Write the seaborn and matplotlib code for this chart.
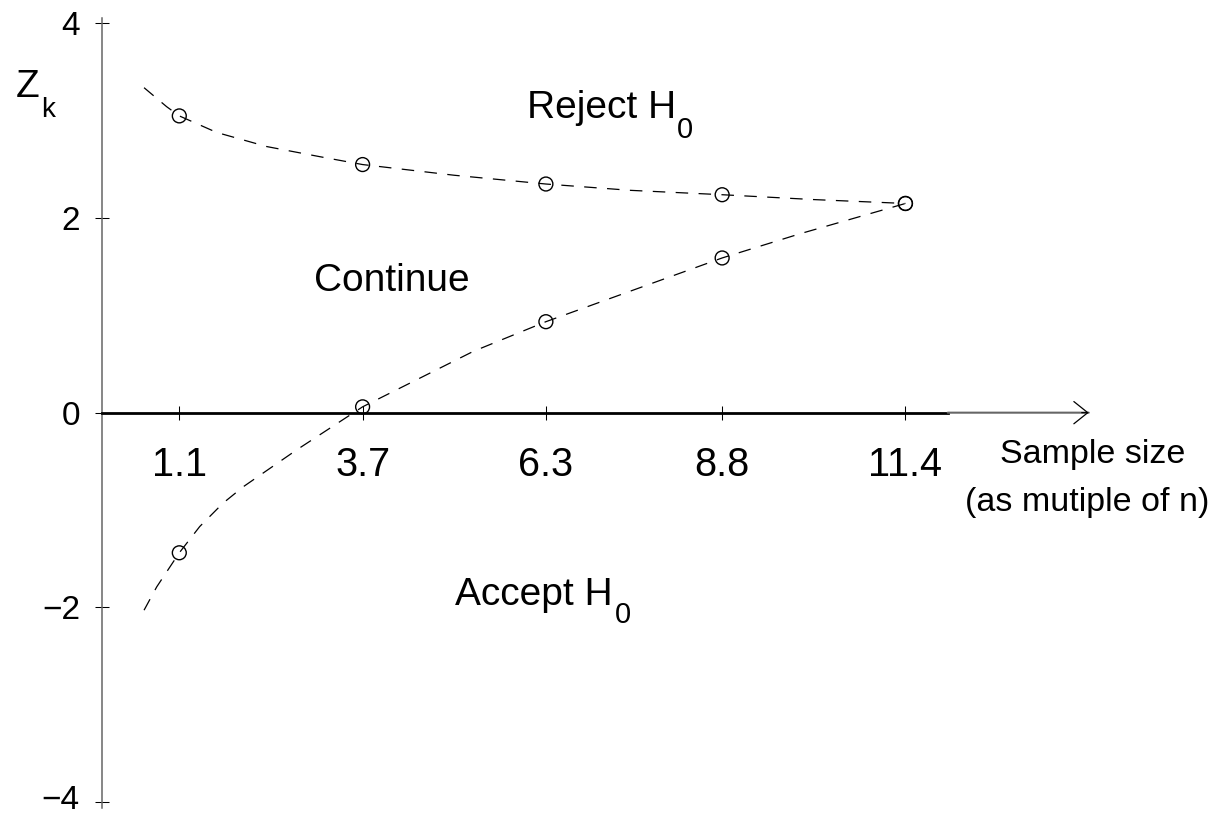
import matplotlib
matplotlib.use("Agg")
import matplotlib.pyplot as plt
import pandas as pd
import seaborn as sns

# boundary values at each interim analysis
looks = [1.1, 3.7, 6.3, 8.8, 11.4]
look_labels = ["1.1", "3.7", "6.3", "8.8", "11.4"]
upper_bound = [3.05, 2.55, 2.35, 2.24, 2.15]
lower_bound = [-1.44, 0.06, 0.935, 1.59, 2.15]

# dashed boundary curves
upper_curve_x = [0.6, 0.92, 1.1, 1.63, 2.34, 3.1, 3.7, 5.0, 6.3, 7.5, 8.8, 10.1, 11.4]
upper_curve_y = [3.34, 3.145, 3.05, 2.88, 2.735, 2.63, 2.55, 2.44, 2.35, 2.285, 2.24, 2.19, 2.15]
lower_curve_x = [0.6, 0.78, 1.1, 1.39, 1.72, 2.01, 2.77, 3.7, 5.27, 6.3, 7.54, 8.8, 9.91, 11.4]
lower_curve_y = [-2.03, -1.79, -1.44, -1.17, -0.93, -0.76, -0.38, 0.06, 0.63, 0.935, 1.26, 1.59, 1.84, 2.15]

y_ticks = [-4, -2, 0, 2, 4]

sns.set_style("white")
plt.rcParams['font.family'] = ['Liberation Sans', 'DejaVu Sans']
plt.rcParams['lines.scale_dashes'] = False
plt.rcParams['text.color'] = 'black'
plt.rcParams['xtick.color'] = 'black'
plt.rcParams['ytick.color'] = 'black'

W, H = 1222, 818
fig = plt.figure(figsize=(W / 100, H / 100), dpi=100)
# x: 0 at px 101.75, 70.5 px/unit ; y: 0 at px 412.7, 97.3 px/unit
ax = fig.add_axes([101.75 / W, 1 - 811.6 / H, 15.5 * 70.5 / W, 8.2 * 97.3 / H])
ax.set_xlim(0, 15.5)
ax.set_ylim(-4.1, 4.1)

curves = pd.DataFrame({
    'x': upper_curve_x + lower_curve_x,
    'y': upper_curve_y + lower_curve_y,
    'side': ['upper'] * len(upper_curve_x) + ['lower'] * len(lower_curve_x),
})
for side, grp in curves.groupby('side'):
    sns.lineplot(data=grp, x='x', y='y', ax=ax, color='black', lw=0.9,
                 linestyle=(0, (9, 7.5)), sort=False, estimator=None)

for vals in (upper_bound, lower_bound):
    sns.scatterplot(x=looks, y=vals, ax=ax, marker='o', s=100,
                    facecolor='none', edgecolor='black', linewidth=1.0, zorder=3)

# axes styling
ax.spines['top'].set_visible(False)
ax.spines['right'].set_visible(False)
ax.spines['left'].set_color('#666666')
ax.spines['left'].set_linewidth(1.1)
ax.spines['left'].set_bounds(-4.06, 4.06)
ax.spines['bottom'].set_position(('data', 0))
ax.spines['bottom'].set_color('black')
ax.spines['bottom'].set_linewidth(2.0)
ax.spines['bottom'].set_bounds(0, 12)

ax.annotate('', xy=(14, 0), xytext=(12, 0),
            arrowprops=dict(arrowstyle='-', color='#666666', lw=1.5,
                            shrinkA=0, shrinkB=0))
ax.annotate('', xy=(14, 0), xytext=(13.9, 0),
            arrowprops=dict(arrowstyle='->,head_length=0.5,head_width=0.4',
                            color='black', lw=0.9, shrinkA=0, shrinkB=0,
                            mutation_scale=20))

ax.set_xticks(looks)
ax.set_xticklabels(look_labels, fontsize=28.5)
ax.set_yticks(y_ticks)
# lowest label sits on the figure edge, it is drawn separately a bit higher
ylabels = [str(v).replace('-', '\u2212') for v in y_ticks]
ax.set_yticklabels([''] + ylabels[1:], fontsize=24)
ax.annotate(ylabels[0], xy=(0, y_ticks[0]), xytext=(-16, -10.2),
            textcoords='offset points', ha='right', va='bottom',
            fontsize=24, annotation_clip=False)
ax.tick_params(axis='both', direction='inout', length=9.4, width=0.75,
               color='black', labelcolor='black', bottom=True, left=True)
ax.tick_params(axis='x', pad=19)
ax.tick_params(axis='y', pad=10.8)
ax.set_xlabel('')
ax.set_ylabel('')
ax.grid(False)

# region labels
ax.text(6.03, 3.03, 'Reject H', fontsize=28, ha='left', va='baseline')
ax.text(8.16, 2.823, '0', fontsize=21, ha='left', va='baseline')
ax.text(3.01, 1.254, 'Continue', fontsize=28, ha='left', va='baseline')
ax.text(5.01, -1.976, 'Accept H', fontsize=28, ha='left', va='baseline')
ax.text(7.28, -2.164, '0', fontsize=21, ha='left', va='baseline')
ax.text(14.05, -0.517, 'Sample size', fontsize=24.5, ha='center', va='baseline')
ax.text(13.98, -1.01, '(as mutiple of n)', fontsize=24.5, ha='center', va='baseline')

# y axis label Z_k
fig.text(16 / W, 1 - 97 / H, 'Z', fontsize=28, ha='left', va='baseline')
fig.text(41 / W, 1 - 116.7 / H, 'k', fontsize=20, ha='left', va='baseline')

fig.savefig('out.png', dpi=100)
